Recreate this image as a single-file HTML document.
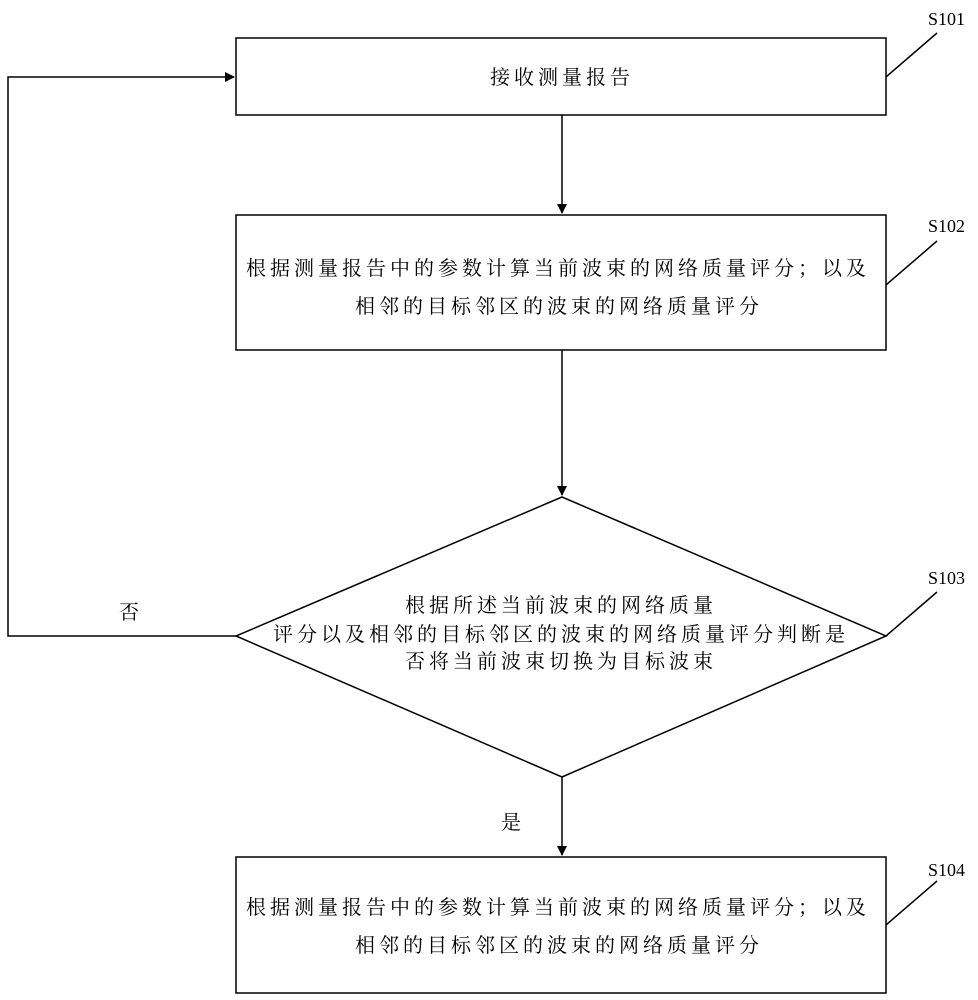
<!DOCTYPE html>
<html><head><meta charset="utf-8"><style>
html,body{margin:0;padding:0;background:#fff;}
svg{display:block}
text{font-family:"Liberation Serif","Noto Serif CJK SC",serif;fill:#000;}
.c{font-size:20px;letter-spacing:4px;}
.s{font-size:18px;}
</style></head><body>
<svg width="978" height="1000" viewBox="0 0 978 1000" xmlns="http://www.w3.org/2000/svg">
<defs><marker id="a" markerWidth="10" markerHeight="10" refX="9" refY="5" orient="auto" markerUnits="userSpaceOnUse"><path d="M0,0 L10,5 L0,10 z" fill="#000"/></marker></defs>
<g stroke="#000" stroke-width="1.5" fill="none">
<rect x="236" y="38" width="650" height="77"/>
<rect x="236" y="215" width="650" height="135"/>
<polygon points="562,497 886,636 562,777 236,636"/>
<rect x="236" y="857" width="650" height="136"/>
<line x1="562" y1="115" x2="562" y2="213" marker-end="url(#a)"/>
<line x1="562" y1="350" x2="562" y2="495" marker-end="url(#a)"/>
<line x1="562" y1="777" x2="562" y2="855" marker-end="url(#a)"/>
<polyline points="236,636 8,636 8,77 234,77" marker-end="url(#a)"/>
<line x1="886" y1="77" x2="937" y2="33"/>
<line x1="886" y1="285" x2="937" y2="241"/>
<line x1="886" y1="636" x2="937" y2="592"/>
<line x1="886" y1="925" x2="937" y2="881"/>
</g>
<text class="s" x="928" y="25">S101</text>
<text class="s" x="928" y="232">S102</text>
<text class="s" x="928" y="584">S103</text>
<text class="s" x="928" y="876">S104</text>
<text class="c" x="490" y="84">接收测量报告</text>
<text class="c" x="246" y="275">根据测量报告中的参数计算当前波束的网络质量评分；以及</text>
<text class="c" x="355" y="313">相邻的目标邻区的波束的网络质量评分</text>
<text class="c" x="405" y="612">根据所述当前波束的网络质量</text>
<text class="c" x="273" y="641">评分以及相邻的目标邻区的波束的网络质量评分判断是</text>
<text class="c" x="405" y="668">否将当前波束切换为目标波束</text>
<text class="c" x="246" y="914">根据测量报告中的参数计算当前波束的网络质量评分；以及</text>
<text class="c" x="355" y="952">相邻的目标邻区的波束的网络质量评分</text>
<text class="c" x="119" y="619">否</text>
<text class="c" x="501" y="829">是</text>
</svg>
</body></html>
